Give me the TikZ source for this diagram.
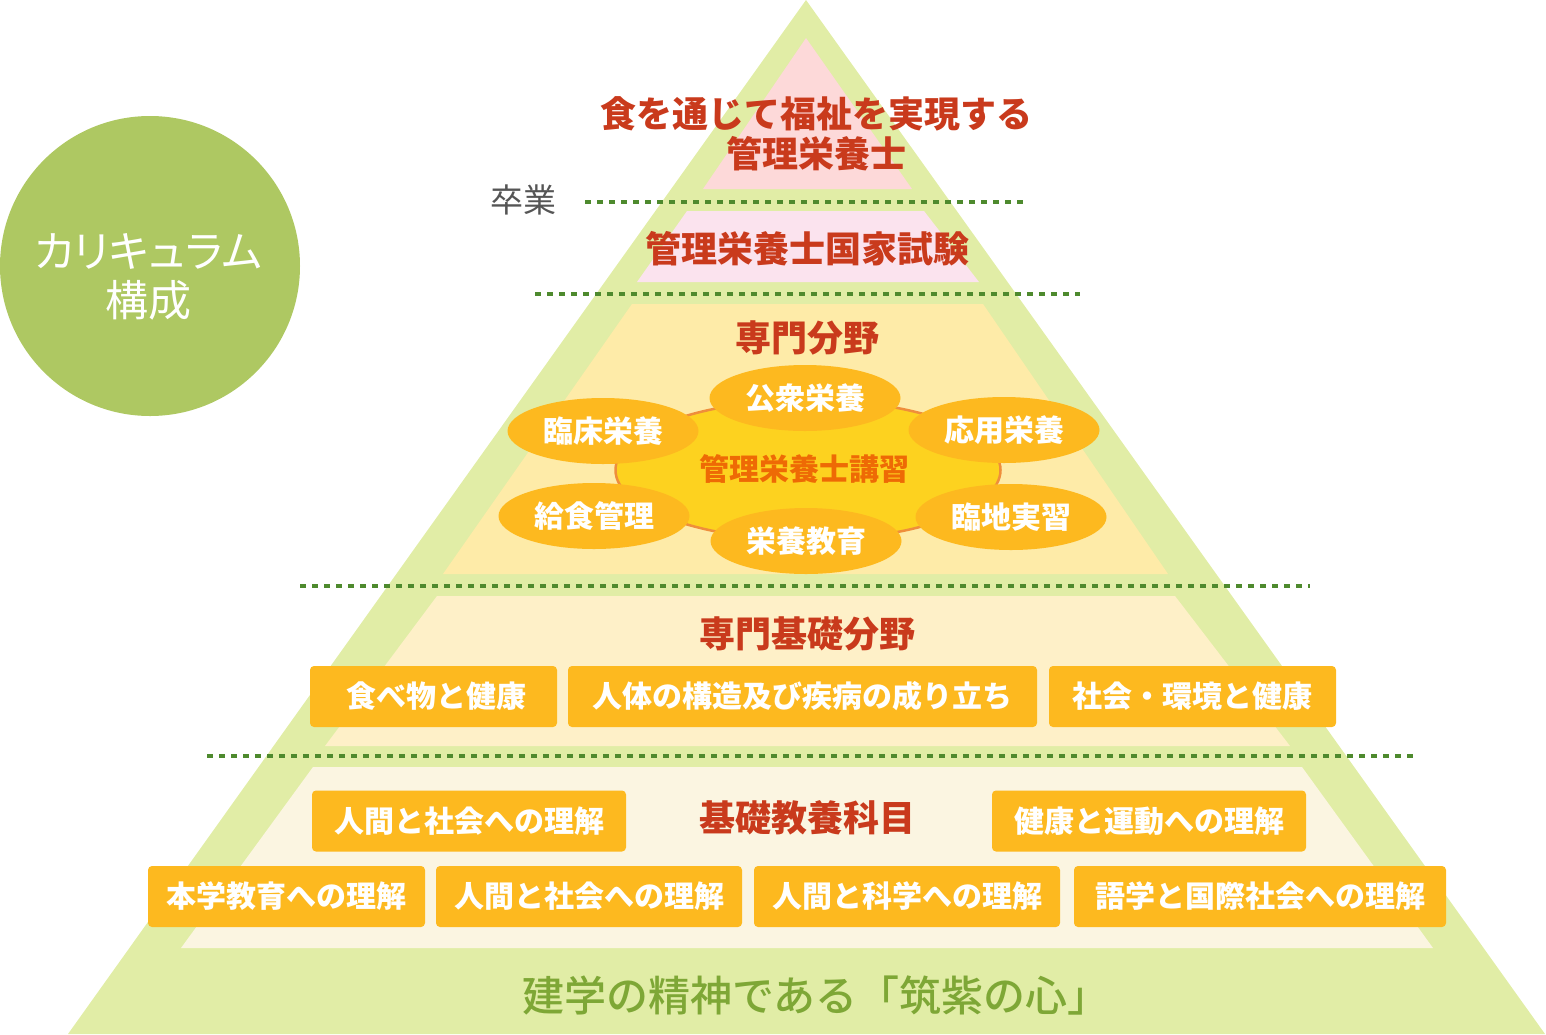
\documentclass[tikz,border=0pt]{standalone}
\usepackage{fontspec}
\setmainfont{Noto Sans CJK JP}
\newfontfamily\medfont{Noto Sans CJK JP Medium}
\newfontfamily\paltfont{Noto Sans CJK JP}[RawFeature=+palt]
\usetikzlibrary{shapes.geometric}
\definecolor{outerg}{HTML}{E1EDA6}
\definecolor{toppink}{HTML}{FDD9D9}
\definecolor{exampink}{HTML}{FBE3EE}
\definecolor{bandthree}{HTML}{FEEBA8}
\definecolor{bandfour}{HTML}{FEF0C8}
\definecolor{bandfive}{HTML}{FBF5E1}
\definecolor{dotg}{HTML}{4E8A2E}
\definecolor{boxc}{HTML}{FDB91F}
\definecolor{centc}{HTML}{FDD21F}
\definecolor{centline}{HTML}{EF8E3B}
\definecolor{headc}{HTML}{C93A1C}
\definecolor{centtxt}{HTML}{EE6A05}
\definecolor{circc}{HTML}{AEC862}
\definecolor{bottomc}{HTML}{7EA736}
\definecolor{grayt}{HTML}{555555}
\tikzset{
  sepline/.style={draw=dotg, line width=3.3pt, dash pattern=on 6pt off 6pt},
  head/.style={text=headc, font=\fontsize{36}{40}\selectfont\bfseries, inner sep=0pt, align=center},
  obox/.style={fill=boxc, rounded corners=4pt, text=white, font=\fontsize{30}{34}\selectfont\bfseries, minimum height=61pt, inner sep=0pt},
  oell/.style={ellipse, fill=boxc, text=white, font=\fontsize{30}{34}\selectfont\bfseries, minimum width=191pt, minimum height=66pt, inner sep=0pt},
}
\begin{document}
\begin{tikzpicture}[x=1pt,y=-1pt]
\useasboundingbox (0,0) rectangle (1546,1034);
% outer triangle
\fill[outerg] (806,0) -- (1545,1034) -- (68,1034) -- cycle;
% top pink triangle
\fill[toppink] (806,38) -- (912,189) -- (703,189) -- cycle;
% exam band
\fill[exampink] (687,211) -- (924,211) -- (979,282) -- (637,282) -- cycle;
% band 3
\fill[bandthree] (632,304) -- (983,304) -- (1168,574) -- (443,574) -- cycle;
% band 4
\fill[bandfour] (437,596) -- (1175,596) -- (1290,746) -- (325,746) -- cycle;
% band 5
\fill[bandfive] (313,767) -- (1302,767) -- (1433,948) -- (181,948) -- cycle;
% dotted separators
\draw[sepline] (585,202) -- (1025,202);
\draw[sepline] (535,294) -- (1080,294);
\draw[sepline] (300,586) -- (1310,586);
\draw[sepline] (207,756) -- (1416,756);
% circle
\node[circle, fill=circc, minimum size=300pt, inner sep=0pt] (circ) at (150,266) {};
\node[text=white, font=\paltfont\fontsize{43}{49}\selectfont, align=center, inner sep=0pt] (circtxt) at (148,277) {カリキュラム\\構成};
% graduation
\node[text=grayt, font=\fontsize{33}{36}\selectfont, inner sep=0pt] (grad) at (523,200) {卒業};
% top text
\node[head] (goal) at (816,134) {食を通じて福祉を実現する\\管理栄養士};
\node[head] (exam) at (807,249) {管理栄養士国家試験};
% band 3
\node[head] (senmon) at (807,338) {専門分野};
\node[ellipse, fill=centc, draw=centline, line width=2.5pt, minimum width=385pt, minimum height=140pt] (cent) at (808,470) {};
\node[oell] (koshu) at (805,398) {公衆栄養};
\node[oell] (rinsho) at (603,431) {臨床栄養};
\node[oell] (oyo) at (1004,430) {応用栄養};
\node[oell] (kyushoku) at (594,516) {給食管理};
\node[oell] (kyoiku) at (806,541) {栄養教育};
\node[oell] (rinchi) at (1011,517) {臨地実習};
\node[text=centtxt, font=\fontsize{30}{34}\selectfont\bfseries, inner sep=0pt] (centtext) at (804,469) {管理栄養士講習};
% band 4
\node[head] (kiso) at (807,634) {専門基礎分野};
\node[obox, minimum width=247pt] (b41) at (433.5,696.5) {\hspace*{6pt}食べ物と健康};
\node[obox, minimum width=469pt] (b42) at (802.5,696.5) {人体の構造及び疾病の成り立ち};
\node[obox, minimum width=287pt] (b43) at (1192.5,696.5) {社会・環境と健康};
% band 5
\node[head] (kyoyo) at (807,818) {基礎教養科目};
\node[obox, minimum width=314pt] (b51) at (469,821) {人間と社会への理解};
\node[obox, minimum width=314pt] (b52) at (1149,821) {健康と運動への理解};
\node[obox, minimum width=277pt] (b53) at (286.5,896.5) {本学教育への理解};
\node[obox, minimum width=306pt] (b54) at (589,896.5) {人間と社会への理解};
\node[obox, minimum width=306pt] (b55) at (907,896.5) {人間と科学への理解};
\node[obox, minimum width=372pt] (b56) at (1260,896.5) {語学と国際社会への理解};
% bottom text
\node[text=bottomc, font=\medfont\fontsize{42}{44}\selectfont, inner sep=0pt] (spirit) at (816,995) {建学の精神である「筑紫の心」};
\end{tikzpicture}
\end{document}
